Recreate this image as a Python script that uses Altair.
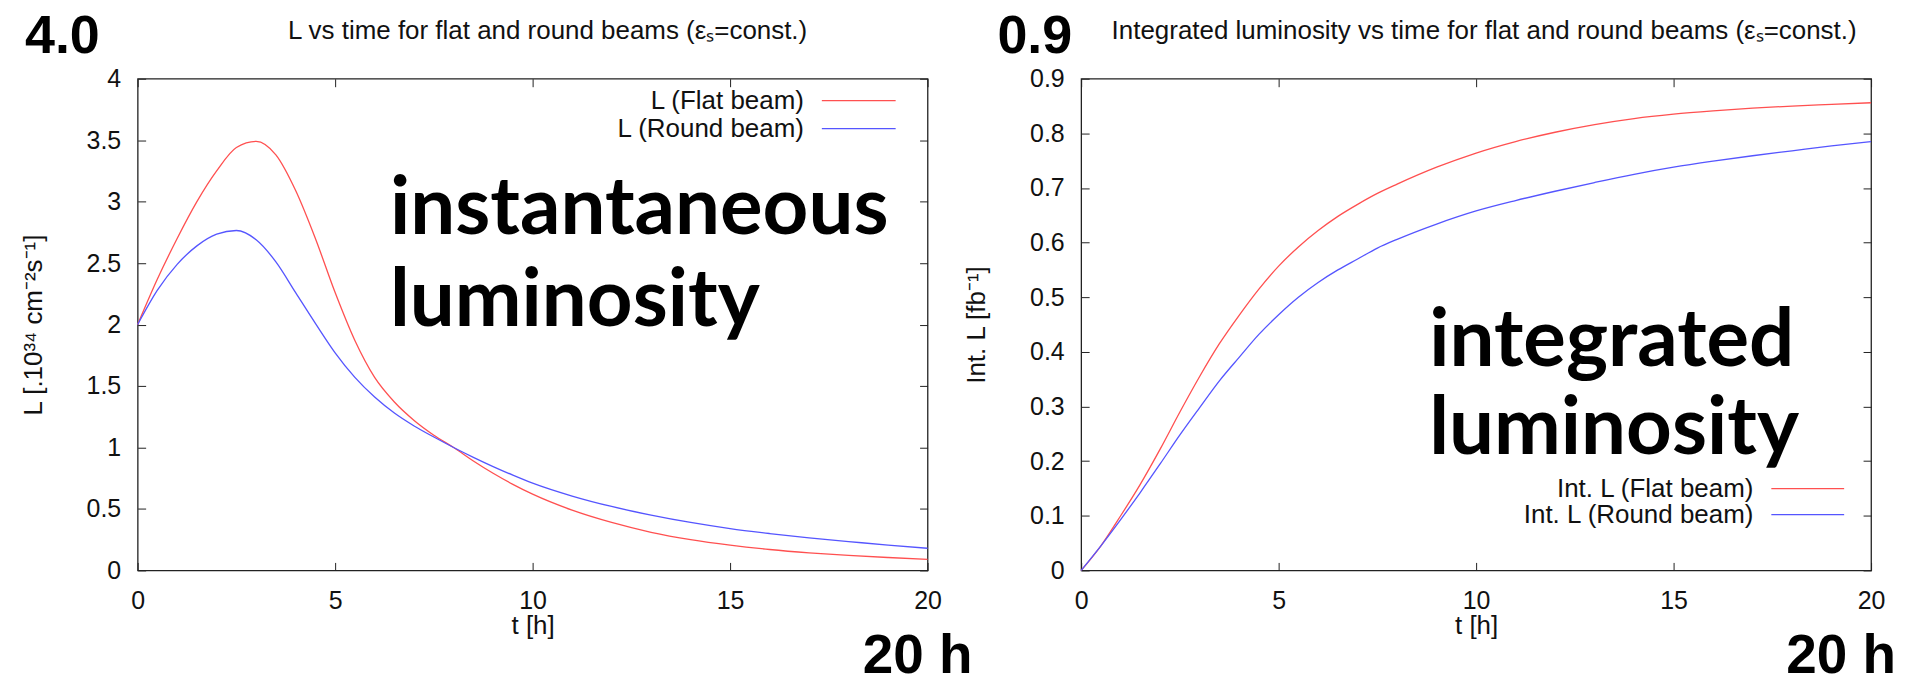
import altair as alt
import pandas as pd

# ---------------- data ----------------
t_inst = [0, 0.5, 1, 1.5, 2, 2.5, 3, 3.5, 4, 4.5, 5, 5.5, 6, 6.5, 7, 7.5, 8, 8.5, 9, 9.5,
          10, 11, 12, 13, 14, 15, 16, 17, 18, 19, 20]
L_flat = [2.00, 2.37, 2.70, 3.00, 3.25, 3.44, 3.49, 3.38, 3.09, 2.70, 2.26, 1.87, 1.57, 1.37,
          1.22, 1.10, 1.00, 0.89, 0.79, 0.70, 0.62, 0.49, 0.39, 0.31, 0.25, 0.205, 0.17,
          0.143, 0.122, 0.105, 0.09]
L_round = [2.00, 2.28, 2.49, 2.64, 2.735, 2.765, 2.69, 2.51, 2.26, 2.01, 1.77, 1.57, 1.41,
           1.28, 1.175, 1.085, 1.00, 0.92, 0.845, 0.775, 0.71, 0.605, 0.52, 0.45, 0.39,
           0.34, 0.30, 0.265, 0.235, 0.205, 0.18]

t_int = [0, 0.5, 1, 1.5, 2, 2.5, 3, 3.5, 4, 4.5, 5, 5.5, 6, 6.5, 7, 7.5, 8, 9, 10, 11, 12,
         13, 14, 15, 16, 17, 18, 19, 20]
I_flat = [0, 0.045, 0.10, 0.158, 0.222, 0.29, 0.355, 0.415, 0.467, 0.515, 0.557, 0.592,
          0.622, 0.648, 0.670, 0.690, 0.707, 0.738, 0.764, 0.785, 0.802, 0.816, 0.827,
          0.835, 0.841, 0.846, 0.850, 0.853, 0.856]
I_round = [0, 0.045, 0.093, 0.143, 0.195, 0.248, 0.298, 0.347, 0.39, 0.432, 0.468, 0.50,
           0.527, 0.55, 0.57, 0.59, 0.606, 0.634, 0.658, 0.677, 0.694, 0.71, 0.725, 0.738,
           0.749, 0.759, 0.768, 0.777, 0.785]

x_ticks = [0, 5, 10, 15, 20]
y_ticks_inst = [0, 0.5, 1, 1.5, 2, 2.5, 3, 3.5, 4]
y_ticks_int = [0, 0.1, 0.2, 0.3, 0.4, 0.5, 0.6, 0.7, 0.8, 0.9]

names_inst = ["L (Flat beam)", "L (Round beam)"]
names_int = ["Int. L (Flat beam)", "Int. L (Round beam)"]

title_inst = "L vs time for flat and round beams (\u03b5\u209b=const.)"
title_int = "Integrated luminosity vs time for flat and round beams (\u03b5\u209b=const.)"
ytitle_inst = "L [.10\u00b3\u2074 cm\u207b\u00b2s\u207b\u00b9]"
ytitle_int = "Int. L [fb\u207b\u00b9]"
xtitle = "t [h]"
big_inst = "4.0"
big_int = "0.9"
hours = "20 h"
note_inst = ["instantaneous", "luminosity"]
note_int = ["integrated", "luminosity"]

# ---------------- styling ----------------
FONT = "Liberation Sans"
BIG_FONT = "Lato"
RED = "#ff5050"
BLUE = "#5555ff"
INK = "#111111"
W, H = 792, 493


def one(text):
    return pd.DataFrame({"label": [text]})


def tick_axis(orient, values, offset):
    return alt.Axis(orient=orient, offset=offset, values=values, labels=False,
                    domain=False, grid=False, ticks=True, tickSize=8,
                    tickColor="#222222", tickWidth=1, title=None)


def panel(t, s1, s2, names, ymax, yticks, ytitle, title, title_x, big, big_x,
          notes, note_x, note_y, leg_y, leg_tx, leg_lx, h_x):
    df = pd.DataFrame({
        "t": list(t) + list(t),
        "v": list(s1) + list(s2),
        "series": [names[0]] * len(t) + [names[1]] * len(t),
    })
    xs = alt.Scale(domain=[0, 20], nice=False, zero=False)
    ys = alt.Scale(domain=[0, ymax], nice=False, zero=True)

    lines = alt.Chart(df).mark_line(interpolate="monotone", strokeWidth=1.3).encode(
        x=alt.X("t:Q", scale=xs, axis=alt.Axis(
            orient="bottom", values=x_ticks, format="~g", ticks=False, tickSize=0,
            domain=False, grid=False, labelFlush=False, labelOverlap=False,
            labelFont=FONT, labelFontSize=25, labelColor=INK,
            labelBaseline="alphabetic", labelPadding=38,
            title=xtitle, titleFont=FONT, titleFontSize=26, titleFontWeight="normal",
            titleColor=INK, titleBaseline="alphabetic", titleAlign="center",
            titleX=W / 2, titleY=63)),
        y=alt.Y("v:Q", scale=ys, axis=alt.Axis(
            orient="left", values=yticks, format="~g", ticks=False, tickSize=0,
            domain=False, grid=False, labelOverlap=False,
            labelFont=FONT, labelFontSize=25, labelColor=INK, labelAlign="right",
            labelBaseline="middle", labelPadding=17,
            title=ytitle, titleFont=FONT, titleFontSize=26, titleFontWeight="normal",
            titleColor=INK, titleAngle=270, titleBaseline="middle", titleAlign="center",
            titleX=-104.5, titleY=H / 2)),
        color=alt.Color("series:N", scale=alt.Scale(domain=names, range=[RED, BLUE]),
                        legend=None),
    )

    ticks_a = alt.Chart(df).mark_point(opacity=0).encode(
        x=alt.X("t:Q", scale=xs, axis=tick_axis("top", x_ticks, -H)),
        y=alt.Y("v:Q", scale=ys, axis=tick_axis("right", yticks, -W)),
    )
    ticks_b = alt.Chart(df).mark_point(opacity=0).encode(
        x=alt.X("t:Q", scale=xs, axis=tick_axis("bottom", x_ticks, -H)),
        y=alt.Y("v:Q", scale=ys, axis=tick_axis("left", yticks, -W)),
    )

    layers = [lines, ticks_a, ticks_b]

    # chart title (gnuplot style)
    layers.append(alt.Chart(one(title)).mark_text(
        font=FONT, fontSize=26, color=INK, align="center", baseline="alphabetic"
    ).encode(x=alt.value(title_x), y=alt.value(-40), text="label:N"))

    # big annotation value at top-left
    layers.append(alt.Chart(one(big)).mark_text(
        font=FONT, fontSize=54, fontWeight="bold", color="black", align="left",
        baseline="alphabetic"
    ).encode(x=alt.value(big_x), y=alt.value(-26), text="label:N"))

    # "20 h" below the axis
    layers.append(alt.Chart(one(hours)).mark_text(
        font=FONT, fontSize=55, fontWeight="bold", color="black", align="left",
        baseline="alphabetic"
    ).encode(x=alt.value(h_x), y=alt.value(H + 103), text="label:N"))

    # big note text
    for k, line in enumerate(notes):
        layers.append(alt.Chart(one(line)).mark_text(
            font=BIG_FONT, fontSize=80, fontWeight="bold", color="black", align="left",
            baseline="alphabetic"
        ).encode(x=alt.value(note_x), y=alt.value(note_y[k]), text="label:N"))

    # gnuplot-style key: label on the left, line sample on the right
    for k, (nm, col) in enumerate(zip(names, [RED, BLUE])):
        layers.append(alt.Chart(one(nm)).mark_text(
            font=FONT, fontSize=26, color=INK, align="right", baseline="middle"
        ).encode(x=alt.value(leg_tx), y=alt.value(leg_y[k]), text="label:N"))
        layers.append(alt.Chart(one(nm)).mark_rule(color=col, strokeWidth=1.3).encode(
            x=alt.value(leg_lx[0]), x2=alt.value(leg_lx[1]), y=alt.value(leg_y[k])))

    return alt.layer(*layers).resolve_axis(x="independent", y="independent").properties(
        width=W, height=H)


left = panel(t_inst, L_flat, L_round, names_inst, 4, y_ticks_inst, ytitle_inst,
             title_inst, 411, big_inst, -113, note_inst, 253, [156, 248],
             [22, 50], 668, [686, 760], 727)
right = panel(t_int, I_flat, I_round, names_int, 0.9, y_ticks_int, ytitle_int,
              title_int, 404, big_int, -84, note_int, 349, [288, 376],
              [411, 437], 674, [692, 765], 707)

chart = alt.hconcat(left, right, spacing=154, bounds="flush").properties(
    padding={"left": 11, "top": 0, "right": 0, "bottom": 0},
    background="white",
).configure_view(stroke="#222222", strokeWidth=1.3)

chart.save("out.html", embed_options={"renderer": "svg", "actions": False})
